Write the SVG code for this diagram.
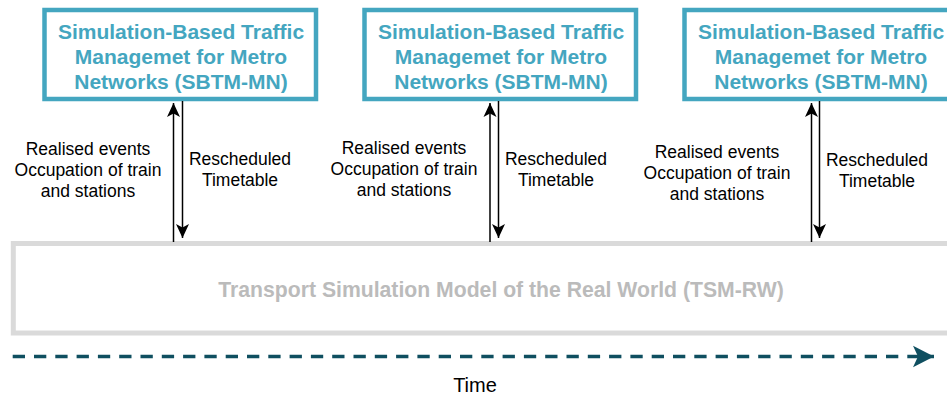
<svg xmlns="http://www.w3.org/2000/svg" width="947" height="398" viewBox="0 0 947 398">
<style>
.box{fill:#fff;stroke:#44A6C0;stroke-width:4.5}
.bt{font-family:"Liberation Sans",Arial,sans-serif;font-weight:bold;font-size:21px;fill:#44A6C0;text-anchor:middle}
.lb{font-family:"Liberation Sans",Arial,sans-serif;font-size:17.5px;fill:#000;text-anchor:middle}
.ar{stroke:#000;stroke-width:1.5;fill:none}
</style>
<defs>
<marker id="ah" markerUnits="userSpaceOnUse" markerWidth="18" markerHeight="18" viewBox="-16 -9 18 18" refX="0" refY="0" orient="auto">
<path d="M0,0 L-14,-6.5 L-10.5,0 L-14,6.5 Z" fill="#000"/>
</marker>
<marker id="th" markerUnits="userSpaceOnUse" markerWidth="26" markerHeight="26" viewBox="-24 -13 26 26" refX="0" refY="0" orient="auto">
<path d="M0,0 L-21,-10.7 L-16,0 L-21,10.7 Z" fill="#0F4F60"/>
</marker>
</defs>
<g id="tsm-rw">
<rect x="13.3" y="243.5" width="960" height="89.5" fill="#fff" stroke="#DADADA" stroke-width="5"/>
<text x="501" y="297" font-family="Liberation Sans,Arial,sans-serif" font-weight="bold" font-size="21.2" fill="#BBBBBB" text-anchor="middle">Transport Simulation Model of the Real World (TSM-RW)</text>
</g>
<g id="sbtm1">
<rect class="box" x="44.5" y="10" width="271.5" height="89"/>
<text class="bt" x="181" y="39">Simulation-Based Traffic</text>
<text class="bt" x="181" y="64">Managemet for Metro</text>
<text class="bt" x="181" y="89">Networks (SBTM-MN)</text>
</g>
<g id="sbtm2">
<rect class="box" x="364.5" y="10" width="271.5" height="89"/>
<text class="bt" x="501" y="39">Simulation-Based Traffic</text>
<text class="bt" x="501" y="64">Managemet for Metro</text>
<text class="bt" x="501" y="89">Networks (SBTM-MN)</text>
</g>
<g id="sbtm3">
<rect class="box" x="684.5" y="10" width="271.5" height="89"/>
<text class="bt" x="821" y="39">Simulation-Based Traffic</text>
<text class="bt" x="821" y="64">Managemet for Metro</text>
<text class="bt" x="821" y="89">Networks (SBTM-MN)</text>
</g>
<g id="connectors">
<line class="ar" x1="173.5" y1="242" x2="173.5" y2="103" marker-end="url(#ah)"/>
<line class="ar" x1="182.5" y1="101" x2="182.5" y2="238" marker-end="url(#ah)"/>
<line class="ar" x1="490" y1="242" x2="490" y2="103" marker-end="url(#ah)"/>
<line class="ar" x1="498.5" y1="101" x2="498.5" y2="238" marker-end="url(#ah)"/>
<line class="ar" x1="811.5" y1="242" x2="811.5" y2="103" marker-end="url(#ah)"/>
<line class="ar" x1="819.5" y1="101" x2="819.5" y2="238" marker-end="url(#ah)"/>
<line x1="12.7" y1="356.5" x2="934" y2="356.5" stroke="#0F4F60" stroke-width="3.5" stroke-dasharray="12.3 9" marker-end="url(#th)"/>
</g>
<g id="labels">
<text class="lb" x="88" y="155">Realised events</text>
<text class="lb" x="88" y="176">Occupation of train</text>
<text class="lb" x="88" y="197">and stations</text>
<text class="lb" x="240" y="165">Rescheduled</text>
<text class="lb" x="240" y="186">Timetable</text>
<text class="lb" x="404" y="154">Realised events</text>
<text class="lb" x="404" y="175">Occupation of train</text>
<text class="lb" x="404" y="196">and stations</text>
<text class="lb" x="556" y="165">Rescheduled</text>
<text class="lb" x="556" y="186">Timetable</text>
<text class="lb" x="717" y="158">Realised events</text>
<text class="lb" x="717" y="179">Occupation of train</text>
<text class="lb" x="717" y="200">and stations</text>
<text class="lb" x="877" y="166">Rescheduled</text>
<text class="lb" x="877" y="187">Timetable</text>
<text x="475" y="392" font-family="Liberation Sans,Arial,sans-serif" font-size="20" fill="#000" text-anchor="middle">Time</text>
</g>
</svg>
